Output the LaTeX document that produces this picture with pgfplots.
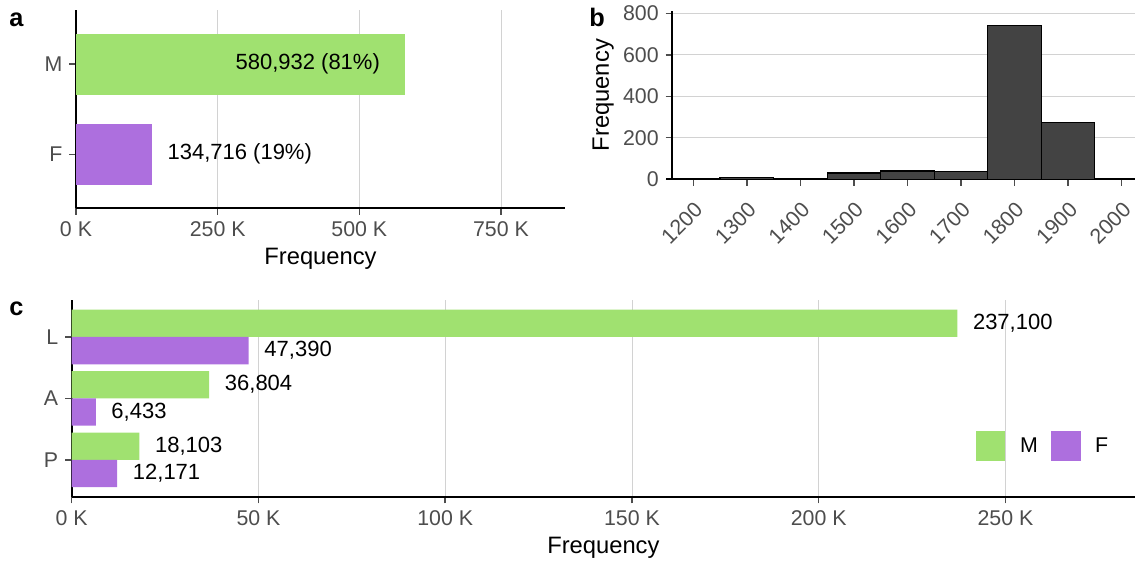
\documentclass[border=0pt]{standalone}
\usepackage{fontspec}
\setmainfont{Liberation Sans}
\usepackage{pgfplots}
\pgfplotsset{compat=1.18}
\definecolor{mgreen}{RGB}{160,225,112}
\definecolor{fpurple}{RGB}{173,111,222}
\definecolor{tickgray}{RGB}{77,77,77}
\definecolor{gridgray}{RGB}{210,210,210}
\definecolor{histgray}{RGB}{67,67,67}
\pgfplotsset{
  panel/.style={
    scale only axis,
    axis lines*=left,
    axis line style={line width=1.5pt, black},
    tick align=outside,
    major tick length=5pt,
    tick style={line width=1.1pt, tickgray},
    tick label style={font=\fontsize{16}{19}\selectfont, text=tickgray, inner sep=0pt},
    xticklabel shift=5pt,
    yticklabel shift=5pt,
    scaled ticks=false,
    /pgf/number format/assume math mode=true,
    major grid style={gridgray, line width=0.6pt},
    label style={font=\fontsize{17.8}{20}\selectfont, text=black},
    clip=false,
  }
}
\begin{document}
\begin{tikzpicture}
\useasboundingbox (0,0) rectangle (851.25pt,422.25pt);
% ---------------- panel a ----------------
\begin{axis}[panel,
  at={(57pt,266pt)}, anchor=south west,
  width=366.75pt, height=148.7pt,
  xbar, bar width=0.675, bar shift=0pt,
  xmin=0, xmax=863000, ymin=0.4, ymax=2.6,
  xtick={0,250000,500000,750000},
  xticklabels={0 K,250 K,500 K,750 K},
  ytick={1,2}, yticklabels={F,M},
  xmajorgrids,
  xlabel={Frequency},
  xlabel style={at={(axis description cs:0.5,0)}, anchor=base, yshift=-42.5pt},
  point meta=explicit symbolic,
  nodes near coords,
]
\addplot[fill=mgreen, draw=none,
  every node near coord/.append style={font=\fontsize{16.5}{19}\selectfont, text=black, inner sep=0pt, anchor=east, xshift=-18.75pt}]
  coordinates {(580932,2) [{580,932 (81\%)}]};
\addplot[fill=fpurple, draw=none,
  every node near coord/.append style={font=\fontsize{16.5}{19}\selectfont, text=black, inner sep=0pt, anchor=west, xshift=11.25pt}]
  coordinates {(134716,1) [{134,716 (19\%)}]};
\end{axis}
% ---------------- panel b ----------------
\begin{axis}[panel,
  at={(504.2pt,287.8pt)}, anchor=south west,
  width=347pt, height=126.2pt,
  xmin=1160.8, xmax=2024.8, ymin=0, ymax=811,
  xtick={1200,1300,1400,1500,1600,1700,1800,1900,2000},
  ytick={0,200,400,600,800},
  ymajorgrids,
  xticklabel shift=11pt,
  xticklabel style={rotate=45, anchor=north east},
  ylabel={Frequency},
  ylabel style={at={(axis description cs:0,0.5)}, anchor=base, yshift=47.5pt},
  /pgf/number format/1000 sep={},
]
\addplot[ybar interval, fill=histgray, draw=black, line width=0.9pt]
  coordinates {(1150,1) (1250,8) (1350,2) (1450,30) (1550,40) (1650,36) (1750,740) (1850,275) (1950,2) (2050,0)};
\end{axis}
% ---------------- panel c ----------------
\begin{axis}[panel,
  at={(53.8pt,49.7pt)}, anchor=south west,
  width=797.5pt, height=147.5pt,
  xbar, bar width=0.445, bar shift=0pt,
  xmin=0, xmax=284700, ymin=0.4, ymax=3.6,
  xtick={0,50000,100000,150000,200000,250000},
  xticklabels={0 K,50 K,100 K,150 K,200 K,250 K},
  ytick={1,2,3}, yticklabels={P,A,L},
  xmajorgrids,
  xlabel={Frequency},
  xlabel style={at={(axis description cs:0.5,0)}, anchor=base, yshift=-42.5pt},
  point meta=x,
  nodes near coords,
  every node near coord/.append style={font=\fontsize{16.5}{19}\selectfont, text=black, inner sep=0pt, anchor=west, xshift=11.6pt,
     /pgf/number format/.cd, fixed, precision=0, 1000 sep={,}},
  legend columns=2,
  legend style={draw=none, fill=none, at={(axis description cs:0.8505,0.2578)}, anchor=west,
    inner sep=0pt, outer sep=0pt,
    nodes={inner sep=0pt, text=black, font=\fontsize{16}{19}\selectfont},
    /tikz/every odd column/.append style={column sep=11pt},
    /tikz/every even column/.append style={column sep=10pt}},
]
\addplot[fill=mgreen, draw=none,
  legend image code/.code={\fill[mgreen] (0pt,-11pt) rectangle (22pt,11pt);}]
  coordinates {(18103,1.2225) (36804,2.2225) (237100,3.2225)};
\addlegendentry{M}
\addplot[fill=fpurple, draw=none,
  legend image code/.code={\fill[fpurple] (0pt,-11pt) rectangle (22pt,11pt);}]
  coordinates {(12171,0.7775) (6433,1.7775) (47390,2.7775)};
\addlegendentry{F}
\end{axis}
% panel letters
\node[anchor=base west, font=\bfseries\fontsize{19}{21}\selectfont, inner sep=0pt] at (6.75pt,402.2pt) {a};
\node[anchor=base west, font=\bfseries\fontsize{19}{21}\selectfont, inner sep=0pt] at (441.75pt,402.2pt) {b};
\node[anchor=base west, font=\bfseries\fontsize{19}{21}\selectfont, inner sep=0pt] at (6.75pt,185.6pt) {c};
\end{tikzpicture}
\end{document}
